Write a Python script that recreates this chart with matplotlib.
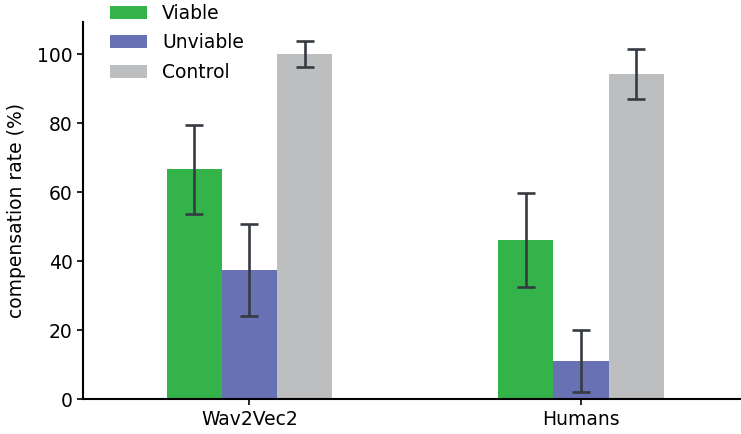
import matplotlib.pyplot as plt
import numpy as np

groups = ['Wav2Vec2', 'Humans']
series = ['Viable', 'Unviable', 'Control']
viable = [66.7, 46.2]
viable_err = [12.9, 13.5]
unviable = [37.5, 11.1]
unviable_err = [13.2, 9.0]
control = [100.0, 94.2]
control_err = [3.7, 7.2]

colors = ['#33b34a', '#6771b4', '#bdbec0']

fig = plt.figure(figsize=(7.41, 4.34), dpi=100)
ax = fig.add_axes([0.112, 0.0795, 0.888, 0.870])

x = np.arange(len(groups))
w = 1 / 6
vals = [viable, unviable, control]
errs = [viable_err, unviable_err, control_err]
for i in range(3):
    ax.bar(x + (i - 1) * w, vals[i], w, yerr=errs[i], color=colors[i], label=series[i],
           error_kw=dict(ecolor='#363a42', elinewidth=1.9, capsize=6.2, capthick=1.9))

ax.set_xlim(-0.502, 1.483)
ax.set_ylim(0, 109.3)
ax.set_xticks(x)
ax.set_xticklabels(groups, fontsize=13.5)
ax.set_yticks([0, 20, 40, 60, 80, 100])
ax.tick_params(axis='y', labelsize=13.5, width=1.2, length=4)
ax.tick_params(axis='x', width=1.2, length=4)
ax.set_ylabel('compensation rate (%)', fontsize=13.5, labelpad=8)
ax.spines['top'].set_visible(False)
ax.spines['right'].set_visible(False)
ax.spines['left'].set_linewidth(1.5)
ax.spines['bottom'].set_linewidth(1.5)

ax.legend(loc='center left', bbox_to_anchor=(0.138, 0.901), bbox_transform=fig.transFigure,
          frameon=False, fontsize=13.5, borderaxespad=0, labelspacing=0.55)

fig.savefig('out.png', dpi=100)
